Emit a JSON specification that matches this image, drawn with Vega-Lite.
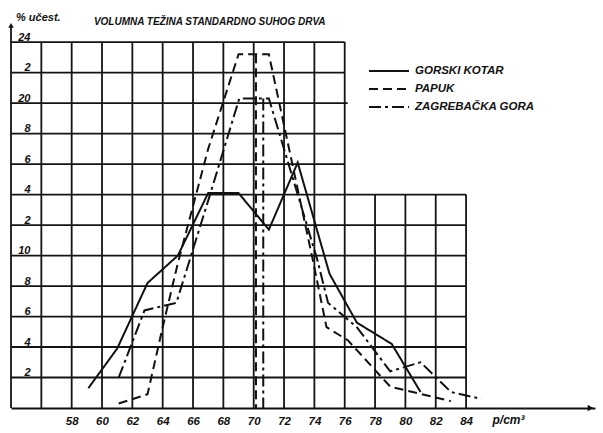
{
  "$schema": "https://vega.github.io/schema/vega-lite/v6.json",
  "width": 584,
  "height": 404,
  "autosize": "none",
  "padding": {"left": 11, "top": 4, "right": 8, "bottom": 25},
  "background": "white",
  "config": {
    "view": {"stroke": null},
    "axis": {
      "grid": false,
      "ticks": false,
      "labelFont": "Liberation Sans",
      "labelFontStyle": "italic",
      "labelFontWeight": "bold",
      "labelColor": "#111",
      "labelOverlap": false,
      "labelFlush": false,
      "labelBound": false
    },
    "axisX": {
      "domain": true,
      "domainColor": "#111",
      "domainWidth": 2,
      "labelFontSize": 11.5,
      "labelPadding": 7
    },
    "axisY": {
      "domain": false,
      "labelAlign": "right",
      "labelPadding": -19,
      "labelBaseline": "alphabetic",
      "labelOffset": -2,
      "labelFontSize": 11
    }
  },
  "datasets": {
    "grid": [
      {"x": 54, "x2": 54, "y": 0, "y2": 25},
      {"x": 56, "x2": 56, "y": 0, "y2": 24},
      {"x": 58, "x2": 58, "y": 0, "y2": 24},
      {"x": 60, "x2": 60, "y": 0, "y2": 24},
      {"x": 62, "x2": 62, "y": 0, "y2": 24},
      {"x": 64, "x2": 64, "y": 0, "y2": 24},
      {"x": 66, "x2": 66, "y": 0, "y2": 24},
      {"x": 68, "x2": 68, "y": 0, "y2": 24},
      {"x": 70, "x2": 70, "y": 0, "y2": 24},
      {"x": 72, "x2": 72, "y": 0, "y2": 24},
      {"x": 74, "x2": 74, "y": 0, "y2": 24},
      {"x": 76, "x2": 76, "y": 0, "y2": 24},
      {"x": 78, "x2": 78, "y": 0, "y2": 14},
      {"x": 80, "x2": 80, "y": 0, "y2": 14},
      {"x": 82, "x2": 82, "y": 0, "y2": 14},
      {"x": 84, "x2": 84, "y": 0, "y2": 14},
      {"x": 54, "x2": 84, "y": 2, "y2": 2},
      {"x": 54, "x2": 84, "y": 4, "y2": 4},
      {"x": 54, "x2": 84, "y": 6, "y2": 6},
      {"x": 54, "x2": 84, "y": 8, "y2": 8},
      {"x": 54, "x2": 84, "y": 10, "y2": 10},
      {"x": 54, "x2": 84, "y": 12, "y2": 12},
      {"x": 54, "x2": 84, "y": 14, "y2": 14},
      {"x": 54, "x2": 76, "y": 16, "y2": 16},
      {"x": 54, "x2": 76, "y": 18, "y2": 18},
      {"x": 54, "x2": 76.2, "y": 20, "y2": 20},
      {"x": 54, "x2": 76, "y": 22, "y2": 22},
      {"x": 54, "x2": 76, "y": 24, "y2": 24}
    ],
    "series": [
      {"series": "GORSKI KOTAR", "x": 59.1, "y": 1.3},
      {"series": "GORSKI KOTAR", "x": 61, "y": 3.9},
      {"series": "GORSKI KOTAR", "x": 63, "y": 8.2},
      {"series": "GORSKI KOTAR", "x": 65, "y": 10},
      {"series": "GORSKI KOTAR", "x": 67, "y": 14.1},
      {"series": "GORSKI KOTAR", "x": 69, "y": 14.1},
      {"series": "GORSKI KOTAR", "x": 71, "y": 11.7},
      {"series": "GORSKI KOTAR", "x": 72.9, "y": 16.1},
      {"series": "GORSKI KOTAR", "x": 75, "y": 8.8},
      {"series": "GORSKI KOTAR", "x": 76.8, "y": 5.6},
      {"series": "GORSKI KOTAR", "x": 79.1, "y": 4.2},
      {"series": "GORSKI KOTAR", "x": 81, "y": 1.05},
      {"series": "PAPUK", "x": 61.1, "y": 0.3},
      {"series": "PAPUK", "x": 63, "y": 0.9},
      {"series": "PAPUK", "x": 64, "y": 5.3},
      {"series": "PAPUK", "x": 65, "y": 9.5},
      {"series": "PAPUK", "x": 67, "y": 17},
      {"series": "PAPUK", "x": 69, "y": 23.2},
      {"series": "PAPUK", "x": 71, "y": 23.2},
      {"series": "PAPUK", "x": 73.9, "y": 9.7},
      {"series": "PAPUK", "x": 74.8, "y": 5.3},
      {"series": "PAPUK", "x": 76.2, "y": 4.45},
      {"series": "PAPUK", "x": 79, "y": 1.4},
      {"series": "PAPUK", "x": 83, "y": 0.45},
      {"series": "ZAGREBAČKA GORA", "x": 61.1, "y": 2.0},
      {"series": "ZAGREBAČKA GORA", "x": 62.8, "y": 6.4},
      {"series": "ZAGREBAČKA GORA", "x": 64.9, "y": 6.9},
      {"series": "ZAGREBAČKA GORA", "x": 67, "y": 13.6},
      {"series": "ZAGREBAČKA GORA", "x": 69.05, "y": 20.3},
      {"series": "ZAGREBAČKA GORA", "x": 71, "y": 20.3},
      {"series": "ZAGREBAČKA GORA", "x": 74.2, "y": 9.7},
      {"series": "ZAGREBAČKA GORA", "x": 74.9, "y": 6.9},
      {"series": "ZAGREBAČKA GORA", "x": 76.8, "y": 5.3},
      {"series": "ZAGREBAČKA GORA", "x": 79, "y": 2.4},
      {"series": "ZAGREBAČKA GORA", "x": 81, "y": 3.0},
      {"series": "ZAGREBAČKA GORA", "x": 83, "y": 1.05},
      {"series": "ZAGREBAČKA GORA", "x": 85, "y": 0.6}
    ],
    "means": [
      {"series": "PAPUK", "x": 70.15, "ytop": 23.2},
      {"series": "ZAGREBAČKA GORA", "x": 70.63, "ytop": 20.3}
    ]
  },
  "layer": [
    {
      "data": {"name": "grid"},
      "mark": {"type": "rule", "color": "#141414", "strokeWidth": 1.8},
      "encoding": {
        "x": {
          "field": "x",
          "type": "quantitative",
          "scale": {"domain": [54, 92.5], "nice": false, "zero": false},
          "axis": {"values": [58, 60, 62, 64, 66, 68, 70, 72, 74, 76, 78, 80, 82, 84], "labelOverlap": false, "title": "p/cm³", "titleX": 497, "titleY": 11, "titleBaseline": "middle", "titleAlign": "center", "titleFont": "Liberation Sans", "titleFontStyle": "italic", "titleFontWeight": "bold", "titleFontSize": 12, "titleColor": "#111"}
        },
        "y": {
          "field": "y",
          "type": "quantitative",
          "scale": {"domain": [0, 26.5], "nice": false, "zero": false},
          "axis": {"values": [2, 4, 6, 8, 10, 12, 14, 16, 18, 20, 22, 24], "labelOverlap": false, "labelExpr": "(datum.value == 24 || datum.value == 20 || datum.value <= 10) ? datum.label : '' + (datum.value % 10)", "title": null}
        },
        "x2": {"field": "x2"},
        "y2": {"field": "y2"}
      }
    },
    {
      "data": {"name": "series"},
      "mark": {"type": "line", "strokeWidth": 2, "strokeCap": "butt", "strokeJoin": "miter"},
      "encoding": {
        "x": {"field": "x", "type": "quantitative", "axis": {"values": [58, 60, 62, 64, 66, 68, 70, 72, 74, 76, 78, 80, 82, 84], "labelOverlap": false, "title": "p/cm³"}},
        "y": {"field": "y", "type": "quantitative", "axis": {"values": [2, 4, 6, 8, 10, 12, 14, 16, 18, 20, 22, 24], "labelOverlap": false, "labelExpr": "(datum.value == 24 || datum.value == 20 || datum.value <= 10) ? datum.label : '' + (datum.value % 10)", "title": null}},
        "color": {
          "field": "series",
          "type": "nominal",
          "scale": {"domain": ["GORSKI KOTAR", "PAPUK", "ZAGREBAČKA GORA"], "range": ["#111111", "#111111", "#111111"]},
          "legend": {
            "orient": "none",
            "legendX": 372,
            "legendY": 61,
            "title": null,
            "symbolType": "M-4,0H4",
            "symbolSize": 100,
            "symbolStrokeWidth": 2,
            "labelFont": "Liberation Sans",
            "labelFontStyle": "italic",
            "labelFontWeight": "bold",
            "labelFontSize": 11.5,
            "labelColor": "#111",
            "labelOffset": 20,
            "rowPadding": 6
          }
        },
        "strokeDash": {
          "field": "series",
          "type": "nominal",
          "scale": {"domain": ["GORSKI KOTAR", "PAPUK", "ZAGREBAČKA GORA"], "range": [[1, 0], [9, 5], [12, 4, 3, 4]]},
          "legend": {
            "orient": "none",
            "legendX": 372,
            "legendY": 61,
            "title": null,
            "symbolType": "M-4,0H4",
            "symbolSize": 100,
            "symbolStrokeWidth": 2,
            "labelFont": "Liberation Sans",
            "labelFontStyle": "italic",
            "labelFontWeight": "bold",
            "labelFontSize": 11.5,
            "labelColor": "#111",
            "labelOffset": 20,
            "rowPadding": 6
          }
        },
        "order": {"field": "x", "type": "quantitative"}
      }
    },
    {
      "data": {"name": "means"},
      "mark": {"type": "rule", "strokeWidth": 2, "color": "#111"},
      "encoding": {
        "x": {"field": "x", "type": "quantitative", "axis": {"values": [58, 60, 62, 64, 66, 68, 70, 72, 74, 76, 78, 80, 82, 84], "labelOverlap": false, "title": "p/cm³"}},
        "y": {"field": "ytop", "type": "quantitative", "axis": {"values": [2, 4, 6, 8, 10, 12, 14, 16, 18, 20, 22, 24], "labelOverlap": false, "labelExpr": "(datum.value == 24 || datum.value == 20 || datum.value <= 10) ? datum.label : '' + (datum.value % 10)", "title": null}},
        "y2": {"datum": 0},
        "strokeDash": {"field": "series", "type": "nominal", "legend": null}
      }
    },
    {
      "data": {"values": [{}]},
      "mark": {"type": "text", "font": "Liberation Sans", "fontStyle": "italic", "fontWeight": "bold", "fontSize": 10, "color": "#111", "align": "center", "baseline": "middle"},
      "encoding": {
        "x": {"datum": 67.1, "type": "quantitative", "axis": {"values": [58, 60, 62, 64, 66, 68, 70, 72, 74, 76, 78, 80, 82, 84], "labelOverlap": false, "title": "p/cm³"}},
        "y": {"datum": 25.3, "type": "quantitative", "axis": {"values": [2, 4, 6, 8, 10, 12, 14, 16, 18, 20, 22, 24], "labelOverlap": false, "labelExpr": "(datum.value == 24 || datum.value == 20 || datum.value <= 10) ? datum.label : '' + (datum.value % 10)", "title": null}},
        "text": {"value": "VOLUMNA TEŽINA STANDARDNO SUHOG DRVA"}
      }
    },
    {
      "data": {"values": [{}]},
      "mark": {"type": "text", "font": "Liberation Sans", "fontStyle": "italic", "fontWeight": "bold", "fontSize": 11, "color": "#111", "align": "center", "baseline": "middle"},
      "encoding": {
        "x": {"datum": 55.8, "type": "quantitative", "axis": {"values": [58, 60, 62, 64, 66, 68, 70, 72, 74, 76, 78, 80, 82, 84], "labelOverlap": false, "title": "p/cm³"}},
        "y": {"datum": 25.6, "type": "quantitative", "axis": {"values": [2, 4, 6, 8, 10, 12, 14, 16, 18, 20, 22, 24], "labelOverlap": false, "labelExpr": "(datum.value == 24 || datum.value == 20 || datum.value <= 10) ? datum.label : '' + (datum.value % 10)", "title": null}},
        "text": {"value": "% učest."}
      }
    },
    {
      "data": {"values": [{}]},
      "mark": {"type": "point", "shape": "triangle-right", "filled": true, "size": 40, "color": "#111", "opacity": 1},
      "encoding": {
        "x": {"datum": 92.2, "type": "quantitative", "axis": {"values": [58, 60, 62, 64, 66, 68, 70, 72, 74, 76, 78, 80, 82, 84], "labelOverlap": false, "title": "p/cm³"}},
        "y": {"datum": 0, "type": "quantitative", "axis": {"values": [2, 4, 6, 8, 10, 12, 14, 16, 18, 20, 22, 24], "labelOverlap": false, "labelExpr": "(datum.value == 24 || datum.value == 20 || datum.value <= 10) ? datum.label : '' + (datum.value % 10)", "title": null}}
      }
    },
    {
      "data": {"values": [{}]},
      "mark": {"type": "point", "shape": "triangle-up", "filled": true, "size": 30, "color": "#111", "opacity": 1},
      "encoding": {
        "x": {"datum": 54, "type": "quantitative", "axis": {"values": [58, 60, 62, 64, 66, 68, 70, 72, 74, 76, 78, 80, 82, 84], "labelOverlap": false, "title": "p/cm³"}},
        "y": {"datum": 25.1, "type": "quantitative", "axis": {"values": [2, 4, 6, 8, 10, 12, 14, 16, 18, 20, 22, 24], "labelOverlap": false, "labelExpr": "(datum.value == 24 || datum.value == 20 || datum.value <= 10) ? datum.label : '' + (datum.value % 10)", "title": null}}
      }
    }
  ]
}
